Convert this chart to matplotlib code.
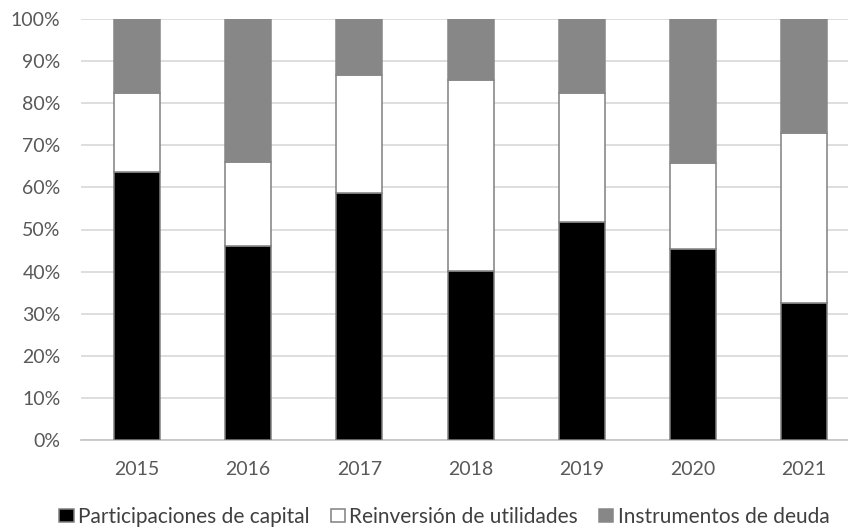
"""Stacked share of FDI components by year."""

import matplotlib

matplotlib.use("Agg")
import matplotlib.pyplot as plt
import numpy as np

years = ["2015", "2016", "2017", "2018", "2019", "2020", "2021"]
capital = [63.6, 46.0, 58.6, 40.2, 51.9, 45.3, 32.6]
reinversion = [18.9, 20.1, 28.0, 45.3, 30.6, 20.4, 40.3]
deuda = [100 - c - r for c, r in zip(capital, reinversion)]

series_names = ["Participaciones de capital", "Reinversión de utilidades", "Instrumentos de deuda"]
y_ticks = [0, 10, 20, 30, 40, 50, 60, 70, 80, 90, 100]

plt.rcParams["font.family"] = ["Lato", "DejaVu Sans"]

fig = plt.figure(figsize=(8.48, 5.28), dpi=100)
ax = fig.add_axes([81.4 / 848, 1 - 440 / 528, 778.4 / 848, 421 / 528])

x = np.arange(len(years))
width = 0.414
bottom_deuda = np.array(capital) + np.array(reinversion)
ax.bar(x, capital, width, color="black", edgecolor="#808080", linewidth=1.1, label=series_names[0], zorder=3)
ax.bar(x, reinversion, width, bottom=capital, color="white", edgecolor="#808080", linewidth=1.1,
       label=series_names[1], zorder=3)
ax.bar(x, deuda, width, bottom=bottom_deuda, color="#878787", edgecolor="#878787", linewidth=1.1,
       label=series_names[2], zorder=3)

ax.set_xlim(-0.5, len(years) - 0.5)
ax.set_ylim(0, 100)
ax.set_yticks(y_ticks)
ax.set_yticklabels([f"{v}%" for v in y_ticks])
ax.set_xticks(x)
ax.set_xticklabels(years)
ax.grid(axis="y", color="#d4d4d4", linewidth=1.1, zorder=0)
for side in ("top", "right", "left"):
    ax.spines[side].set_visible(False)
ax.spines["bottom"].set_color("#c4c4c4")
ax.spines["bottom"].set_linewidth(1.2)
ax.tick_params(length=0, labelsize=14, colors="#595959")
ax.tick_params(axis="y", pad=15)
ax.tick_params(axis="x", pad=15)

fig.legend(loc="center", bbox_to_anchor=(0.524, 0.021), ncol=3, frameon=False, fontsize=15,
           handlelength=0.7, handleheight=0.55, handletextpad=0.2, columnspacing=1.0,
           labelcolor="#404040")

fig.savefig("out.png", dpi=100)
